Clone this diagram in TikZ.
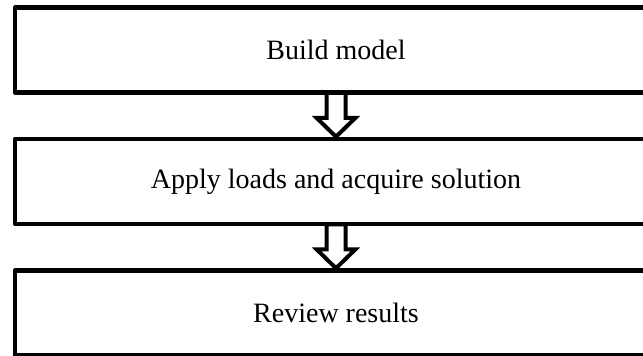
\documentclass[tikz,border=0pt]{standalone}
\usepackage{fontspec}
\setmainfont{Liberation Serif}
\usetikzlibrary{calc}
\newcommand\myblockarrow[2]{%
  \draw[blockarrow] ($(#1.south)+(-9.5,-2)$) -- ($(#1.south)+(-9.5,23)$)
    -- ($(#1.south)+(-19.5,23)$) -- (#2.north)
    -- ($(#1.south)+(19.5,23)$) -- ($(#1.south)+(9.5,23)$)
    -- ($(#1.south)+(9.5,-2)$) -- cycle;}
\begin{document}
\begin{tikzpicture}[x=0.75pt,y=-0.75pt,
  stepbox/.style={draw=black,line width=3.4pt,line join=round,fill=white,
    minimum width=481.5pt,minimum height=63.75pt,inner sep=0pt,
    font=\fontsize{21}{25}\selectfont},
  blockarrow/.style={draw=black,fill=white,line width=3pt,line join=miter}]
\useasboundingbox (0,0) rectangle (643,356);
\node[stepbox] (b1) at (336,50) {Build model};
\node[stepbox] (b2) at (336,181.5) {Apply loads and acquire solution};
\node[stepbox] (b3) at (336,313) {Review results};
\myblockarrow{b1}{b2}
\myblockarrow{b2}{b3}
\end{tikzpicture}
\end{document}
